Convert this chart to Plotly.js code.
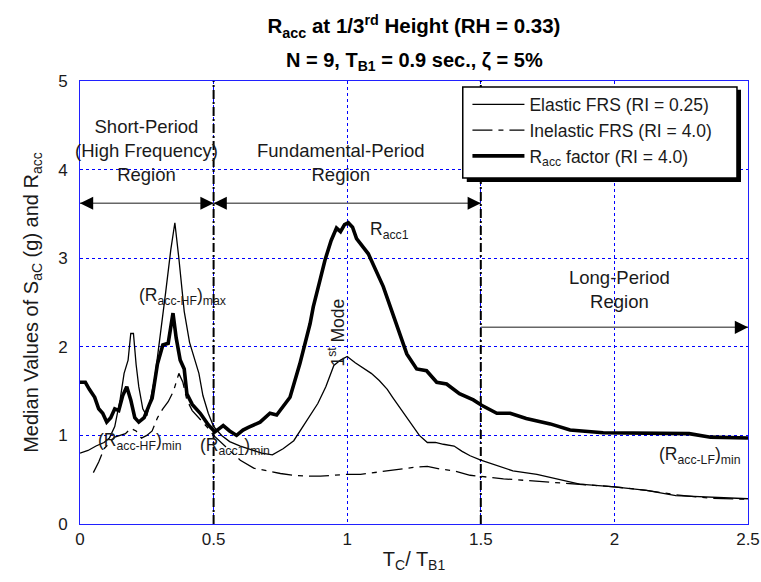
<!DOCTYPE html>
<html>
<head>
<meta charset="utf-8">
<script src="https://cdn.plot.ly/plotly-3.0.1.min.js"></script>
<style>html,body{margin:0;padding:0;background:#fff;}#chart{width:761px;height:582px;}</style>
</head>
<body>
<div id="chart"></div>
<script>
// ---- Data ----
const elasticX = [0.00,0.03,0.06,0.09,0.11,0.13,0.15,0.165,0.18,0.19,0.20,0.21,0.22,0.235,0.25,0.26,0.28,0.30,0.32,0.34,0.355,0.37,0.39,0.41,0.43,0.445,0.46,0.48,0.50,0.53,0.56,0.60,0.64,0.68,0.72,0.76,0.80,0.85,0.89,0.92,0.95,0.975,1.00,1.03,1.06,1.09,1.12,1.15,1.17,1.20,1.235,1.27,1.30,1.33,1.36,1.40,1.43,1.46,1.50,1.56,1.62,1.71,1.785,1.87,2.00,2.12,2.23,2.36,2.50];
const elasticY = [0.80,0.83,0.88,0.92,0.97,1.10,1.40,1.70,1.85,2.15,2.15,1.80,1.55,1.30,1.22,1.35,1.65,2.10,2.60,3.10,3.40,3.00,2.40,2.05,1.85,1.70,1.45,1.25,1.10,1.00,0.93,0.88,0.84,0.80,0.78,0.85,0.94,1.17,1.36,1.55,1.79,1.85,1.89,1.82,1.76,1.70,1.62,1.52,1.43,1.30,1.15,1.00,0.92,0.92,0.90,0.88,0.82,0.77,0.72,0.66,0.60,0.56,0.51,0.45,0.42,0.38,0.32,0.30,0.285];

const inelasticX = [0.05,0.07,0.09,0.11,0.13,0.15,0.17,0.19,0.21,0.23,0.25,0.27,0.29,0.31,0.33,0.35,0.37,0.385,0.40,0.42,0.45,0.48,0.50,0.53,0.56,0.60,0.65,0.70,0.75,0.80,0.85,0.90,0.95,1.00,1.05,1.10,1.15,1.20,1.25,1.30,1.35,1.40,1.46,1.585,1.76,1.87,2.00,2.12,2.23,2.36,2.50];
const inelasticY = [0.58,0.70,0.85,0.92,0.98,1.00,1.02,1.08,1.05,0.97,1.00,1.05,1.20,1.30,1.38,1.50,1.70,1.60,1.40,1.28,1.18,1.08,1.00,0.92,0.83,0.72,0.63,0.60,0.57,0.55,0.54,0.54,0.55,0.56,0.56,0.58,0.60,0.62,0.64,0.65,0.62,0.60,0.55,0.51,0.47,0.45,0.42,0.38,0.33,0.29,0.28];

const raccX = [0.00,0.02,0.035,0.055,0.07,0.085,0.10,0.115,0.13,0.145,0.16,0.175,0.19,0.205,0.22,0.24,0.26,0.27,0.29,0.31,0.33,0.348,0.36,0.375,0.39,0.40,0.42,0.45,0.48,0.505,0.536,0.56,0.586,0.61,0.63,0.674,0.711,0.736,0.786,0.823,0.861,0.873,0.898,0.917,0.94,0.96,0.975,0.99,1.004,1.02,1.035,1.079,1.135,1.185,1.223,1.26,1.297,1.335,1.372,1.42,1.472,1.503,1.56,1.61,1.67,1.76,1.834,1.958,2.08,2.21,2.28,2.36,2.50];
const raccY = [1.60,1.60,1.52,1.43,1.30,1.25,1.15,1.20,1.30,1.28,1.45,1.55,1.40,1.20,1.15,1.20,1.35,1.42,1.81,2.02,2.04,2.38,2.10,1.85,1.75,1.47,1.35,1.25,1.12,1.04,1.11,1.05,1.00,1.06,1.09,1.15,1.25,1.23,1.43,1.81,2.26,2.45,2.75,2.98,3.20,3.34,3.30,3.38,3.40,3.35,3.22,3.05,2.68,2.26,1.92,1.75,1.73,1.60,1.58,1.47,1.40,1.34,1.25,1.25,1.19,1.13,1.06,1.03,1.03,1.03,1.02,0.98,0.97];

const seriesNames = ["Elastic FRS (RI = 0.25)", "Inelastic FRS (RI = 4.0)", "R<sub>acc</sub> factor (RI = 4.0)"];
const xTicks = [0, 0.5, 1, 1.5, 2, 2.5];
const xTickLabels = ["0", "0.5", "1", "1.5", "2", "2.5"];
const yTicks = [0, 1, 2, 3, 4, 5];
const yTickLabels = ["0", "1", "2", "3", "4", "5"];
const regionBounds = [0, 0.5, 1.5, 2.5];

const FONT = "Arial, 'Liberation Sans', sans-serif";
const TXT = "#1a1a1a";

const traces = [
  {x: elasticX, y: elasticY, name: seriesNames[0], type: "scatter", mode: "lines",
   line: {color: "black", width: 1.3}},
  {x: inelasticX, y: inelasticY, name: seriesNames[1], type: "scatter", mode: "lines",
   line: {color: "black", width: 1.3, dash: "20px,6px,5px,6px"}},
  {x: raccX, y: raccY, name: seriesNames[2], type: "scatter", mode: "lines",
   line: {color: "black", width: 3.6}}
];

const shapes = [
  // region boundaries
  {type: "line", xref: "x", yref: "y", x0: regionBounds[1], x1: regionBounds[1], y0: 0, y1: 5,
   line: {color: "black", width: 2, dash: "9px,3px,2px,3px"}},
  {type: "line", xref: "x", yref: "y", x0: regionBounds[2], x1: regionBounds[2], y0: 0, y1: 5,
   line: {color: "black", width: 2, dash: "9px,3px,2px,3px"}},
  // arrow shafts (grey)
  {type: "line", xref: "x", yref: "y", x0: regionBounds[0], x1: regionBounds[1], y0: 3.62, y1: 3.62,
   line: {color: "#666", width: 1.5}},
  {type: "line", xref: "x", yref: "y", x0: regionBounds[1], x1: regionBounds[2], y0: 3.62, y1: 3.62,
   line: {color: "#666", width: 1.5}},
  {type: "line", xref: "x", yref: "y", x0: regionBounds[2], x1: regionBounds[3], y0: 2.22, y1: 2.22,
   line: {color: "#666", width: 1.5}},
  // legend shadow + box
  {type: "rect", xref: "paper", yref: "paper", layer: "above", x0: 0.579, x1: 0.9895, y0: 0.772, y1: 0.980,
   fillcolor: "black", line: {width: 0}},
  {type: "rect", xref: "paper", yref: "paper", layer: "above", x0: 0.573, x1: 0.9835, y0: 0.781, y1: 0.9864,
   fillcolor: "white", line: {color: "black", width: 1.5}}
];

function head(xTip, xTail, y) {
  return {x: xTip, y: y, ax: xTail, ay: y, xref: "x", yref: "y", axref: "x", ayref: "y",
          text: "", showarrow: true, arrowhead: 2, arrowsize: 2.2, arrowwidth: 1.2, arrowcolor: "black"};
}
function note(text, x, y, xanchor, size, extra) {
  return Object.assign({x: x, y: y, xref: "x", yref: "y", text: text, showarrow: false,
    xanchor: xanchor, yanchor: "middle", font: {family: FONT, size: size, color: TXT}}, extra || {});
}

const annotations = [
  head(regionBounds[0], 0.05, 3.62), head(regionBounds[1], 0.45, 3.62),
  head(regionBounds[1], 0.55, 3.62), head(regionBounds[2], 1.45, 3.62),
  head(regionBounds[3], 2.45, 2.22),
  note("Short-Period<br>(High Frequency)<br>Region", 0.25, 4.22, "center", 18.5),
  note("Fundamental-Period<br>Region", 0.975, 4.08, "center", 18.5),
  note("Long-Period<br>Region", 2.02, 2.65, "center", 18.5),
  note("(R<sub>acc-HF</sub>)<sub>max</sub>", 0.212, 2.57, "left", 17.5),
  note("(R<sub>acc-HF</sub>)<sub>min</sub>", 0.06, 0.93, "left", 17.5),
  note("(R<sub>acc1</sub>)<sub>min</sub>", 0.44, 0.88, "left", 17.5),
  note("R<sub>acc1</sub>", 1.078, 3.31, "left", 17.5),
  note("1<sup>st</sup> Mode", 0.958, 2.16, "center", 17.5, {textangle: -90}),
  note("(R<sub>acc-LF</sub>)<sub>min</sub>", 2.16, 0.77, "left", 17.5),
  {xref: "paper", yref: "paper", x: 0.5, y: 1.043, xanchor: "center", yanchor: "middle", showarrow: false,
   text: "<b>N = 9, T<sub>B1</sub> = 0.9 sec., ζ = 5%</b>", font: {family: FONT, size: 20, color: "black"}}
];

const layout = {
  width: 761, height: 582,
  margin: {l: 80, r: 13, t: 81, b: 58, pad: 0},
  paper_bgcolor: "white", plot_bgcolor: "white",
  font: {family: FONT, size: 17, color: "black"},
  title: {text: "<b>R<sub>acc</sub> at 1/3<sup>rd</sup> Height (RH = 0.33)</b>", x: 0.544, xanchor: "center",
          y: 0.955, yanchor: "middle", yref: "container", font: {family: FONT, size: 20.5, color: "black"}},
  showlegend: true,
  legend: {x: 0.58, y: 0.9876, xanchor: "left", yanchor: "top", bgcolor: "rgba(0,0,0,0)", borderwidth: 0,
           itemwidth: 52, font: {family: FONT, size: 17.5, color: TXT}, tracegroupgap: 0},
  xaxis: {range: [0, 2.5], tickvals: xTicks, ticktext: xTickLabels, showgrid: true, gridcolor: "#0000ff",
          griddash: "dot", gridwidth: 1, zeroline: false, showline: true, linecolor: "#2020ff", linewidth: 1,
          mirror: true, ticks: "", tickfont: {family: FONT, size: 17, color: TXT},
          title: {text: "T<sub>C</sub>/ T<sub>B1</sub>", font: {family: FONT, size: 20, color: TXT}, standoff: 3}},
  yaxis: {range: [0, 5], tickvals: yTicks, ticktext: yTickLabels, showgrid: true, gridcolor: "#0000ff",
          griddash: "dot", gridwidth: 1, zeroline: false, showline: true, linecolor: "#2020ff", linewidth: 1,
          mirror: true, ticks: "", ticklabelstandoff: 8, tickfont: {family: FONT, size: 17, color: TXT},
          title: {text: "Median Values of S<sub>aC</sub> (g) and R<sub>acc</sub>", font: {family: FONT, size: 20, color: TXT}, standoff: 14}},
  shapes: shapes,
  annotations: annotations
};

Plotly.newPlot("chart", traces, layout, {displayModeBar: false, staticPlot: true});
</script>
</body>
</html>
